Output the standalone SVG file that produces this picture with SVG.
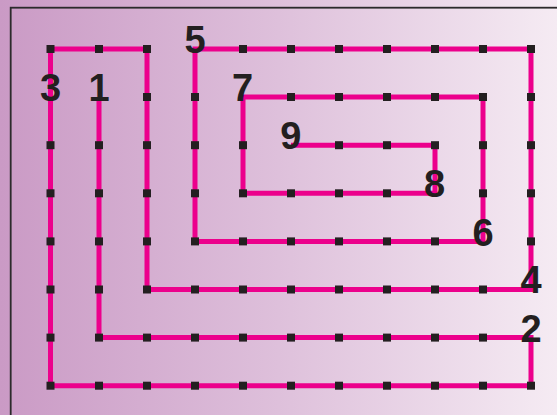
<svg xmlns="http://www.w3.org/2000/svg" width="557" height="415" viewBox="0 0 557 415">
  <defs>
    <linearGradient id="bg" x1="0" y1="0" x2="557" y2="0" gradientUnits="userSpaceOnUse">
      <stop offset="0" stop-color="#CA9AC5"/>
      <stop offset="0.5" stop-color="#DEC0DB"/>
      <stop offset="1" stop-color="#F5EBF3"/>
    </linearGradient>
    <style>
      .frame { fill: none; stroke: #2B2A2B; stroke-width: 1.8; }
      .conn { fill: none; stroke: #EC008C; stroke-width: 5; stroke-linejoin: miter; stroke-linecap: butt; }
      .pt { fill: #231F20; }
      .lbl { font-family: "Liberation Sans", Arial, sans-serif; font-weight: bold; font-size: 38px; fill: #231F20; text-anchor: middle; }
    </style>
  </defs>
  <rect x="0" y="0" width="557" height="415" fill="url(#bg)"/>
  <rect class="frame" x="10.7" y="7.7" width="600" height="500"/>

  <g id="connectors">
    <polyline class="conn" points="99,97 99,337.6 531,337.6 531,385.7 50.5,385.7 50.5,49 147,49 147,289.5 531,289.5 531,49 195,49 195,241.4 483,241.4 483,97 243,97 243,193.3 435,193.3 435,145.2 291,145.2"/>
  </g>

  <g id="points">
    <!-- x=99 column -->
    <rect class="pt" x="95" y="141.2" width="8" height="8"/>
    <rect class="pt" x="95" y="189.3" width="8" height="8"/>
    <rect class="pt" x="95" y="237.4" width="8" height="8"/>
    <rect class="pt" x="95" y="285.5" width="8" height="8"/>
    <rect class="pt" x="95" y="333.6" width="8" height="8"/>
    <!-- y=337.6 row -->
    <rect class="pt" x="143" y="333.6" width="8" height="8"/>
    <rect class="pt" x="191" y="333.6" width="8" height="8"/>
    <rect class="pt" x="239" y="333.6" width="8" height="8"/>
    <rect class="pt" x="287" y="333.6" width="8" height="8"/>
    <rect class="pt" x="335" y="333.6" width="8" height="8"/>
    <rect class="pt" x="383" y="333.6" width="8" height="8"/>
    <rect class="pt" x="431" y="333.6" width="8" height="8"/>
    <rect class="pt" x="479" y="333.6" width="8" height="8"/>
    <!-- y=385.7 row -->
    <rect class="pt" x="46.5" y="381.7" width="8" height="8"/>
    <rect class="pt" x="95" y="381.7" width="8" height="8"/>
    <rect class="pt" x="143" y="381.7" width="8" height="8"/>
    <rect class="pt" x="191" y="381.7" width="8" height="8"/>
    <rect class="pt" x="239" y="381.7" width="8" height="8"/>
    <rect class="pt" x="287" y="381.7" width="8" height="8"/>
    <rect class="pt" x="335" y="381.7" width="8" height="8"/>
    <rect class="pt" x="383" y="381.7" width="8" height="8"/>
    <rect class="pt" x="431" y="381.7" width="8" height="8"/>
    <rect class="pt" x="479" y="381.7" width="8" height="8"/>
    <rect class="pt" x="527" y="381.7" width="8" height="8"/>
    <!-- x=50.5 column -->
    <rect class="pt" x="46.5" y="45" width="8" height="8"/>
    <rect class="pt" x="46.5" y="141.2" width="8" height="8"/>
    <rect class="pt" x="46.5" y="189.3" width="8" height="8"/>
    <rect class="pt" x="46.5" y="237.4" width="8" height="8"/>
    <rect class="pt" x="46.5" y="285.5" width="8" height="8"/>
    <rect class="pt" x="46.5" y="333.6" width="8" height="8"/>
    <!-- y=49 top left -->
    <rect class="pt" x="95" y="45" width="8" height="8"/>
    <rect class="pt" x="143" y="45" width="8" height="8"/>
    <!-- x=147 column -->
    <rect class="pt" x="143" y="93" width="8" height="8"/>
    <rect class="pt" x="143" y="141.2" width="8" height="8"/>
    <rect class="pt" x="143" y="189.3" width="8" height="8"/>
    <rect class="pt" x="143" y="237.4" width="8" height="8"/>
    <rect class="pt" x="143" y="285.5" width="8" height="8"/>
    <!-- y=289.5 row -->
    <rect class="pt" x="191" y="285.5" width="8" height="8"/>
    <rect class="pt" x="239" y="285.5" width="8" height="8"/>
    <rect class="pt" x="287" y="285.5" width="8" height="8"/>
    <rect class="pt" x="335" y="285.5" width="8" height="8"/>
    <rect class="pt" x="383" y="285.5" width="8" height="8"/>
    <rect class="pt" x="431" y="285.5" width="8" height="8"/>
    <rect class="pt" x="479" y="285.5" width="8" height="8"/>
    <!-- x=531 column -->
    <rect class="pt" x="527" y="237.4" width="8" height="8"/>
    <rect class="pt" x="527" y="189.3" width="8" height="8"/>
    <rect class="pt" x="527" y="141.2" width="8" height="8"/>
    <rect class="pt" x="527" y="93" width="8" height="8"/>
    <rect class="pt" x="527" y="45" width="8" height="8"/>
    <!-- y=49 top row -->
    <rect class="pt" x="479" y="45" width="8" height="8"/>
    <rect class="pt" x="431" y="45" width="8" height="8"/>
    <rect class="pt" x="383" y="45" width="8" height="8"/>
    <rect class="pt" x="335" y="45" width="8" height="8"/>
    <rect class="pt" x="287" y="45" width="8" height="8"/>
    <rect class="pt" x="239" y="45" width="8" height="8"/>
    <!-- x=195 column -->
    <rect class="pt" x="191" y="93" width="8" height="8"/>
    <rect class="pt" x="191" y="141.2" width="8" height="8"/>
    <rect class="pt" x="191" y="189.3" width="8" height="8"/>
    <rect class="pt" x="191" y="237.4" width="8" height="8"/>
    <!-- y=241.4 row -->
    <rect class="pt" x="239" y="237.4" width="8" height="8"/>
    <rect class="pt" x="287" y="237.4" width="8" height="8"/>
    <rect class="pt" x="335" y="237.4" width="8" height="8"/>
    <rect class="pt" x="383" y="237.4" width="8" height="8"/>
    <rect class="pt" x="431" y="237.4" width="8" height="8"/>
    <!-- x=483 column -->
    <rect class="pt" x="479" y="189.3" width="8" height="8"/>
    <rect class="pt" x="479" y="141.2" width="8" height="8"/>
    <rect class="pt" x="479" y="93" width="8" height="8"/>
    <!-- y=97 row -->
    <rect class="pt" x="431" y="93" width="8" height="8"/>
    <rect class="pt" x="383" y="93" width="8" height="8"/>
    <rect class="pt" x="335" y="93" width="8" height="8"/>
    <rect class="pt" x="287" y="93" width="8" height="8"/>
    <!-- x=243 column -->
    <rect class="pt" x="239" y="141.2" width="8" height="8"/>
    <rect class="pt" x="239" y="189.3" width="8" height="8"/>
    <!-- y=193.3 row -->
    <rect class="pt" x="287" y="189.3" width="8" height="8"/>
    <rect class="pt" x="335" y="189.3" width="8" height="8"/>
    <rect class="pt" x="383" y="189.3" width="8" height="8"/>
    <!-- x=435 / y=145 -->
    <rect class="pt" x="431" y="141.2" width="8" height="8"/>
    <rect class="pt" x="383" y="141.2" width="8" height="8"/>
    <rect class="pt" x="335" y="141.2" width="8" height="8"/>
  </g>

  <g id="node-1"><text class="lbl" x="99" y="100.7">1</text></g>
  <g id="node-2"><text class="lbl" x="531" y="341.5">2</text></g>
  <g id="node-3"><text class="lbl" x="50.5" y="100.7">3</text></g>
  <g id="node-4"><text class="lbl" x="531" y="293.3">4</text></g>
  <g id="node-5"><text class="lbl" x="195" y="53.3">5</text></g>
  <g id="node-6"><text class="lbl" x="483" y="245.7">6</text></g>
  <g id="node-7"><text class="lbl" x="242.5" y="100.7">7</text></g>
  <g id="node-8"><text class="lbl" x="434.5" y="196.7">8</text></g>
  <g id="node-9"><text class="lbl" x="290.7" y="149">9</text></g>
</svg>
